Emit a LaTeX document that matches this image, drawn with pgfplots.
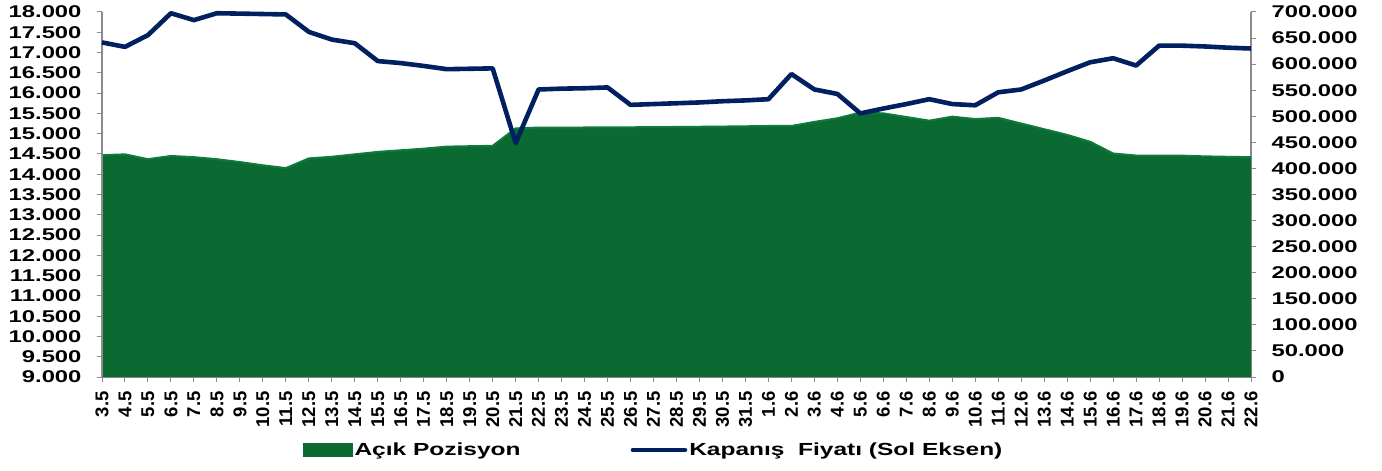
\documentclass[border=0pt]{standalone}
\usepackage{fontspec}
\setmainfont{Liberation Sans}
\newfontfamily\wide{Liberation Sans}[FakeStretch=1.4]
\usepackage{pgfplots}
\usepackage{pgfplotstable}
\pgfplotsset{compat=1.18}
\definecolor{areagreen}{HTML}{0A6A32}
\definecolor{edgegreen}{HTML}{0E7A3C}
\definecolor{navy}{HTML}{002060}
\definecolor{axgray}{HTML}{8C8C8C}

\pgfplotstableread{
i line area
0 17250 425400
1 17140 427000
2 17430 417700
3 17970 423900
4 17800 421600
5 17970 417700
6 17960 412200
7 17950 406000
8 17940 400600
9 17510 419200
10 17320 422300
11 17230 427000
12 16790 431700
13 16740 434800
14 16670 437900
15 16590 441800
16 16600 442600
17 16610 443300
18 14770 476800
19 16090 478300
20 16110 478300
21 16120 478500
22 16140 478700
23 15710 478900
24 15730 479200
25 15750 479500
26 15770 479900
27 15800 480300
28 15820 480800
29 15850 481400
30 16470 481400
31 16090 489200
32 15980 496200
33 15500 507100
34 15620 505600
35 15730 498600
36 15850 491600
37 15730 499300
38 15700 494700
39 16020 497000
40 16090 486100
41 16310 475200
42 16540 464300
43 16760 451100
44 16860 428600
45 16680 424700
46 17170 424700
47 17170 424500
48 17150 423100
49 17120 422300
50 17100 421600
}\data

\pgfplotsset{
  base/.style={
    scale only axis, width=1149pt, height=365pt,
    xmin=0, xmax=50,
    axis line style={axgray, line width=1.2pt},
    tick style={axgray, line width=1pt},
    major tick length=5pt,
    tick align=outside,
    scaled y ticks=false,
    clip=false,
  },
}

\begin{document}
\begin{tikzpicture}
\begin{axis}[base,
  ymin=0, ymax=700000,
  axis y line*=right, axis x line*=bottom,
  ytick={0,50000,...,700000},
  yticklabel={\pgfmathprintnumber[fixed,1000 sep={.},assume math mode=true]{\tick}},
  yticklabel style={font=\wide\bfseries\fontsize{17}{17}\selectfont, anchor=west, xshift=12pt},
  xtick={0,...,50},
  xticklabels={3.5,4.5,5.5,6.5,7.5,8.5,9.5,10.5,11.5,12.5,13.5,14.5,15.5,16.5,17.5,18.5,19.5,20.5,21.5,22.5,23.5,24.5,25.5,26.5,27.5,28.5,29.5,30.5,31.5,1.6,2.6,3.6,4.6,5.6,6.6,7.6,8.6,9.6,10.6,11.6,12.6,13.6,14.6,15.6,16.6,17.6,18.6,19.6,20.6,21.6,22.6},
  xticklabel shift=6pt,
  xticklabel style={rotate=90, anchor=east, font=\bfseries\fontsize{18.5}{18.5}\selectfont},
]
\addplot[fill=areagreen, draw=none] table[x=i, y=area] {\data} \closedcycle;
\addplot[edgegreen, line width=2pt] table[x=i, y=area] {\data};
\coordinate (SW) at (rel axis cs:0,0);
\coordinate (NE) at (rel axis cs:1,1);
\end{axis}
\begin{axis}[base,
  ymin=9000, ymax=18000,
  axis y line*=left, axis x line=none,
  ytick={9000,9500,...,18000},
  yticklabel={\pgfmathprintnumber[fixed,1000 sep={.},assume math mode=true]{\tick}},
  yticklabel style={font=\wide\bfseries\fontsize{17}{17}\selectfont, anchor=east, xshift=-12pt},
  legend columns=2,
  legend style={at={(0.1749,-0.2)}, anchor=west, draw=none, fill=none, inner sep=0pt,
    font=\wide\bfseries\fontsize{17.5}{17.5}\selectfont,
    /tikz/every even column/.append style={column sep=108pt},
    nodes={inner xsep=2pt}},
  legend cell align=left,
]
\addlegendimage{legend image code/.code={\fill[areagreen] (0pt,-6.5pt) rectangle (49pt,6.5pt);}}
\addlegendentry{Açık Pozisyon}
\addplot[navy, line width=4.6pt, line join=round,
  legend image code/.code={\draw[navy, line width=4.6pt, line cap=round] (0pt,0pt) -- (52pt,0pt);}]
  table[x=i, y=line] {\data};
\addlegendentry{Kapanış\ \ Fiyatı (Sol Eksen)}
\end{axis}
\pgfresetboundingbox
\path[use as bounding box] ([xshift=-102pt,yshift=-93pt]SW) rectangle ([xshift=131pt,yshift=12pt]NE);
\end{tikzpicture}
\end{document}
